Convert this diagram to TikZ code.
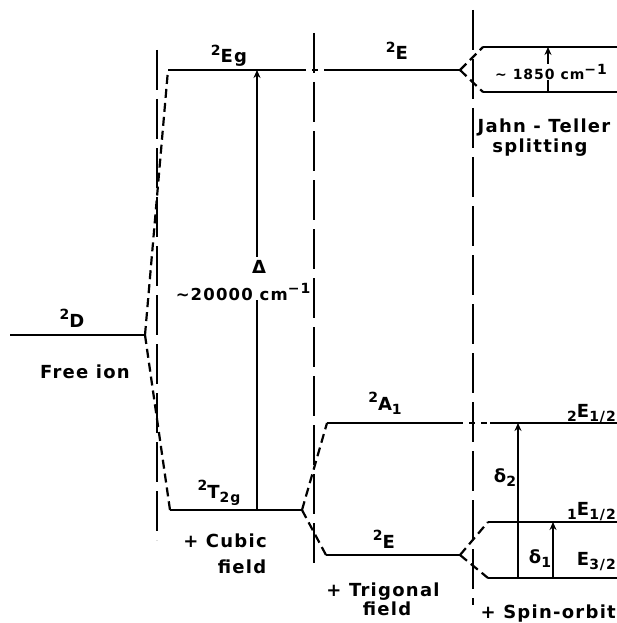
\documentclass[tikz,border=0pt]{standalone}
\usepackage{fontspec}
\setmainfont{DejaVu Sans}[LetterSpace=7,UprightFont=* Bold]
\usetikzlibrary{arrows.meta}
\newcommand{\hi}[1]{\raisebox{0.75ex}{\fontsize{14}{14}\selectfont #1}}
\newcommand{\lo}[1]{\raisebox{-0.45ex}{\fontsize{14}{14}\selectfont #1}}

\begin{document}
\begin{tikzpicture}[x=1pt,y=-1pt,
  every node/.style={font=\fontsize{18}{21}\selectfont,inner sep=0pt},
  level/.style={line width=2.2pt},
  link/.style={line width=2.2pt,dash pattern=on 9pt off 5pt},
  cross/.style={line width=2.2pt,dash pattern=on 6pt off 6pt},
  divider/.style={line width=1.9pt,dash pattern=on 40pt off 9pt},
  gap/.style={line width=1.8pt,-{Stealth[length=8pt,width=7pt]}}]
  \useasboundingbox (0,0) rectangle (617,623);

  \draw[divider] (157,50) -- (157,540);
  \draw[divider] (314,33) -- (314,568);
  \draw[divider] (473,10) -- (473,605);

  \coordinate (Dl) at (10,335);   \coordinate (Dr) at (145,335);
  \coordinate (Egl) at (168,70);  \coordinate (Egr) at (300,70);
  \coordinate (Tl) at (170,510);  \coordinate (Tr) at (302,510);
  \coordinate (Eul) at (330,70);  \coordinate (Eur) at (460,70);
  \coordinate (Al) at (327,423);  \coordinate (Ar) at (457,423);
  \coordinate (Ell) at (326,555); \coordinate (Elr) at (460,555);
  \coordinate (JTul) at (483,47); \coordinate (JTur) at (617,47);
  \coordinate (JTll) at (483,92); \coordinate (JTlr) at (617,92);
  \coordinate (Bl) at (490,423);  \coordinate (Br) at (617,423);
  \coordinate (Cl) at (488,522);  \coordinate (Cr) at (617,522);
  \coordinate (Fl) at (488,578);  \coordinate (Fr) at (617,578);

  \draw[level] (Dl) -- (Dr);
  \draw[level] (Egl) -- (Egr);
  \draw[level] (Tl) -- (Tr);
  \draw[level] (Eul) -- (Eur);
  \draw[level] (Al) -- (Ar);
  \draw[level] (Ell) -- (Elr);
  \draw[level] (JTul) -- (JTur);
  \draw[level] (JTll) -- (JTlr);
  \draw[level] (Bl) -- (Br);
  \draw[level] (Cl) -- (Cr);
  \draw[level] (Fl) -- (Fr);

  \draw[cross] (Egr) -- (Eul);
  \draw[cross] (Ar) -- (Bl);
  \draw[link] (Dr) -- (Egl);
  \draw[link] (Dr) -- (Tl);
  \draw[link] (Tr) -- (Al);
  \draw[link] (Tr) -- (Ell);
  \draw[link] (Eur) -- (JTul);
  \draw[link] (Eur) -- (JTll);
  \draw[link] (Elr) -- (Cl);
  \draw[link] (Elr) -- (Fl);

  \node[anchor=base] (lD) at (72,327) {\hi{2}D};
  \node[anchor=base] (free) at (85,378) {Free ion};
  \node[anchor=base] (lEg) at (229,63) {\hi{2}Eg};
  \node[anchor=base] (lT) at (219,498) {\hi{2}T\lo{2g}};
  \node[anchor=base] (cub1) at (225,547) {+ Cubic};
  \node[anchor=base] (cub2) at (242,573) {field};
  \node[anchor=base] (delta) at (259,273) {Δ};
  \node[anchor=base,font=\fontsize{16.5}{20}\selectfont] (dval) at (243,300) {∼20000 cm\hi{−1}};
  \node[anchor=base] (lEu) at (397,60) {\hi{2}E};
  \node[anchor=base] (lA) at (385,410) {\hi{2}A\lo{1}};
  \node[anchor=base] (lEl) at (384,548) {\hi{2}E};
  \node[anchor=base] (tri1) at (383,596) {+ Trigonal};
  \node[anchor=base] (tri2) at (387,615) {field};
  \node[anchor=base,font=\fontsize{14}{16}\selectfont] (jtval) at (551,80) {∼ 1850 cm\hi{−1}};
  \node[anchor=base] (jt1) at (544,132) {Jahn - Teller};
  \node[anchor=base] (jt2) at (540,152) {splitting};
  \node[anchor=base east] (lB) at (616,417) {\lo{2}E\lo{1/2}};
  \node[anchor=base east] (lC) at (616,515) {\lo{1}E\lo{1/2}};
  \node[anchor=base east] (lF) at (616,565) {E\lo{3/2}};
  \node[anchor=base] (d2) at (505,482) {δ\lo{2}};
  \node[anchor=base] (d1) at (540,563) {δ\lo{1}};
  \node[anchor=base east] (so) at (616,618) {+ Spin-orbit};

  \coordinate (DeltaB) at (257,510); \coordinate (DeltaT) at (257,70);
  \draw[level,line width=1.8pt] (DeltaB) -- (dval.south -| DeltaB);
  \draw[gap] (delta.north -| DeltaB) ++(0,-3) -- (DeltaT);
  \coordinate (JTB) at (548,92); \coordinate (JTT) at (548,47);
  \draw[level,line width=1.8pt] (JTB) -- (jtval.south -| JTB);
  \draw[gap] (jtval.north -| JTT) -- (JTT);
  \coordinate (d2B) at (518,578); \coordinate (d2T) at (518,423);
  \draw[gap] (d2B) -- (d2T);
  \coordinate (d1B) at (553,578); \coordinate (d1T) at (553,522);
  \draw[gap] (d1B) -- (d1T);
\end{tikzpicture}
\end{document}
